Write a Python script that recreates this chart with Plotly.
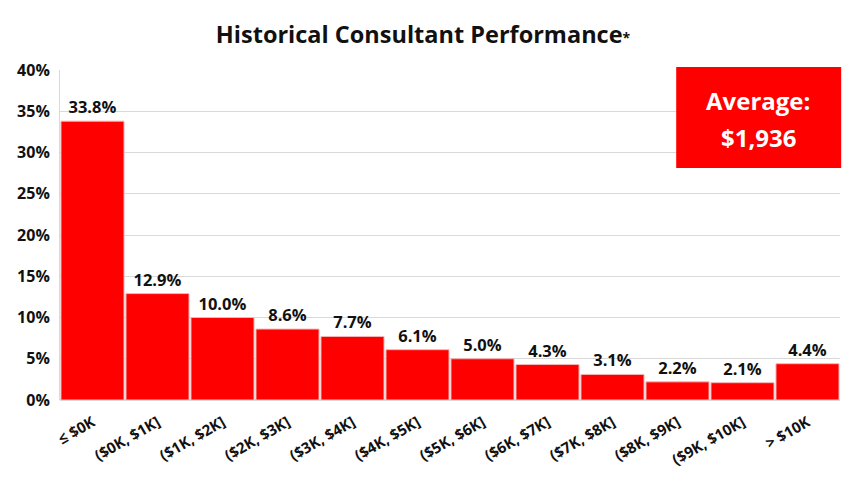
import plotly.graph_objects as go

categories = ["≤ $0K", "($0K, $1K]", "($1K, $2K]", "($2K, $3K]", "($3K, $4K]", "($4K, $5K]",
              "($5K, $6K]", "($6K, $7K]", "($7K, $8K]", "($8K, $9K]", "($9K, $10K]", "> $10K"]
shares = [0.338, 0.129, 0.100, 0.086, 0.077, 0.061, 0.050, 0.043, 0.031, 0.022, 0.021, 0.044]
labels = [f"{v*100:.1f}%" for v in shares]
y_ticks = [0, 0.05, 0.10, 0.15, 0.20, 0.25, 0.30, 0.35, 0.40]
y_tick_text = ["0%", "5%", "10%", "15%", "20%", "25%", "30%", "35%", "40%"]
average_label = "Average:"
average_value = "$1,936"

FONT = "Open Sans"

fig = go.Figure(go.Bar(
    x=categories, y=shares, text=labels, textposition="outside",
    textfont=dict(family=FONT, size=16.5, color="#111111", weight="bold"),
    marker=dict(color="#ff0000", line=dict(color="#f5b5b5", width=1)),
    cliponaxis=False,
))

box_font = dict(family=FONT, size=24, color="white", weight="bold")

fig.update_layout(
    width=847, height=484,
    margin=dict(l=52, r=15, t=62, b=92, autoexpand=False),
    paper_bgcolor="white", plot_bgcolor="white",
    bargap=0.03,
    showlegend=False,
    title=dict(text="<b>Historical Consultant Performance</b><b><span style='font-size:14px'>*</span></b>",
               x=0.49, xanchor="center", y=0.944, yanchor="middle",
               font=dict(family=FONT, size=23.5, color="#111111")),
    xaxis=dict(tickangle=-30, tickfont=dict(family=FONT, size=15, color="#111111", weight="bold"),
               showline=False, showgrid=False, ticks="", automargin=False, ticklabelstandoff=10),
    yaxis=dict(range=[0, 0.40], tickvals=y_ticks, ticktext=y_tick_text,
               tickfont=dict(family=FONT, size=16, color="#111111", weight="bold"),
               showgrid=True, gridcolor="#d9d9d9", gridwidth=1,
               showline=True, linecolor="#d9d9d9", zeroline=True, zerolinecolor="#d9d9d9",
               ticks="", ticklabelstandoff=6, automargin=False),
    shapes=[dict(type="rect", xref="paper", yref="paper", x0=0.79, x1=1.0015, y0=0.703, y1=1.009,
                 fillcolor="#ff0000", line=dict(width=0), layer="above")],
    annotations=[
        dict(xref="paper", yref="paper", x=0.8955, y=(400 - 100) / 330, xanchor="center", yanchor="middle",
             text=average_label, showarrow=False, font=box_font),
        dict(xref="paper", yref="paper", x=0.8955, y=(400 - 137) / 330, xanchor="center", yanchor="middle",
             text=average_value, showarrow=False, font=box_font),
    ],
)

fig.write_html("out.html")
